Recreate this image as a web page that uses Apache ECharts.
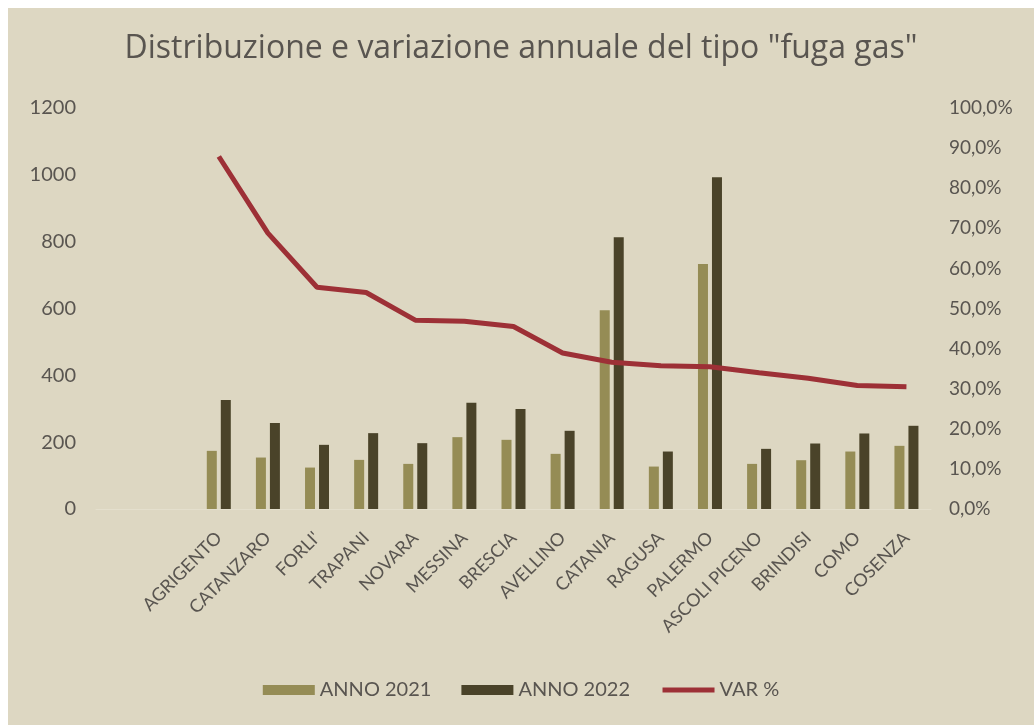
<!DOCTYPE html>
<html>
<head>
<meta charset="utf-8">
<script src="https://cdn.jsdelivr.net/npm/echarts@6/dist/echarts.min.js"></script>
<style>
  html, body { margin: 0; padding: 0; background: #fff; }
  #chart { position: absolute; left: 8px; top: 8px; width: 1026px; height: 717px; }
</style>
</head>
<body>
<div id="chart"></div>
<script>
// two blank slots at the start, as in the original sheet
var cities = ['', '', 'AGRIGENTO', 'CATANZARO', "FORLI'", 'TRAPANI', 'NOVARA', 'MESSINA', 'BRESCIA',
  'AVELLINO', 'CATANIA', 'RAGUSA', 'PALERMO', 'ASCOLI PICENO', 'BRINDISI', 'COMO', 'COSENZA'];
var anno2021 = ['-', '-', 174, 154, 124, 147, 135, 215, 207, 165, 595, 127, 733, 135, 146, 172, 189];
var anno2022 = ['-', '-', 326, 257, 192, 227, 197, 318, 299, 234, 813, 172, 993, 180, 196, 226, 249];
var varPct = ['-', '-', 0.879, 0.688, 0.553, 0.540, 0.471, 0.468, 0.455, 0.389, 0.366, 0.357, 0.355, 0.340, 0.326, 0.308, 0.305];
var leftTicks = { min: 0, max: 1200, step: 200 };
var rightTicks = { min: 0, max: 1, step: 0.1 };

var txt = '#595550';
var font = 'Lato, "Open Sans", sans-serif';

var chart = echarts.init(document.getElementById('chart'));
chart.setOption({
  backgroundColor: '#ddd7c2',
  textStyle: { fontFamily: font },
  title: {
    text: 'Distribuzione e variazione annuale del tipo "fuga gas"',
    left: 'center',
    top: 20,
    textStyle: { color: txt, fontSize: 32, fontWeight: 'normal', fontFamily: '"Open Sans", sans-serif' }
  },
  legend: {
    bottom: 20,
    left: 'center',
    itemWidth: 52,
    itemHeight: 10,
    itemGap: 30,
    textStyle: { color: txt, fontSize: 20 },
    data: [
      { name: 'ANNO 2021', icon: 'rect' },
      { name: 'ANNO 2022', icon: 'rect' },
      { name: 'VAR %', itemStyle: { opacity: 0 }, lineStyle: { width: 5, color: '#9d3036' } }
    ]
  },
  grid: { left: 88, right: 103, top: 100, bottom: 216 },
  xAxis: {
    type: 'category',
    data: cities,
    axisLine: { show: true, lineStyle: { color: '#e4dfcd', width: 1 } },
    axisTick: { show: false },
    axisLabel: { rotate: 45, interval: 0, color: txt, fontSize: 18, margin: 26 }
  },
  yAxis: [
    {
      type: 'value',
      min: leftTicks.min, max: leftTicks.max, interval: leftTicks.step,
      splitLine: { show: false },
      axisLine: { show: false },
      axisTick: { show: false },
      axisLabel: {
        color: txt, fontSize: 20, margin: 20,
        formatter: function (v) { return String(v); }
      }
    },
    {
      type: 'value',
      min: rightTicks.min, max: rightTicks.max, interval: rightTicks.step,
      splitLine: { show: false },
      axisLine: { show: false },
      axisTick: { show: false },
      axisLabel: {
        color: txt, fontSize: 19, margin: 18,
        formatter: function (v) { return (v * 100).toFixed(1).replace('.', ',') + '%'; }
      }
    }
  ],
  series: [
    {
      name: 'ANNO 2021', type: 'bar', data: anno2021,
      barWidth: 10, barGap: '40%',
      itemStyle: { color: '#958c55' }
    },
    {
      name: 'ANNO 2022', type: 'bar', data: anno2022,
      barWidth: 10,
      itemStyle: { color: '#4a4329' }
    },
    {
      name: 'VAR %', type: 'line', yAxisIndex: 1, data: varPct,
      symbol: 'none',
      lineStyle: { color: '#9d3036', width: 5 },
      itemStyle: { color: '#9d3036' }
    }
  ]
});
window.addEventListener('resize', function () { chart.resize(); });
</script>
</body>
</html>
